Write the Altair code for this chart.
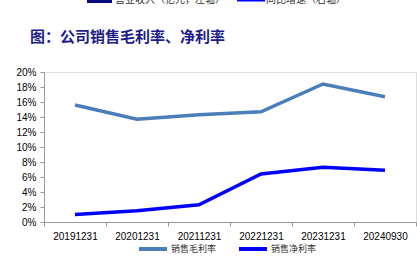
import altair as alt
import pandas as pd

categories = ["20191231", "20201231", "20211231", "20221231", "20231231", "20240930"]
gross_margin = [15.6, 13.7, 14.3, 14.7, 18.4, 16.7]
net_margin = [1.0, 1.5, 2.3, 6.4, 7.3, 6.9]
series_names = ["销售毛利率", "销售净利率"]
series_colors = ["#4A7EBB", "#0000FF"]

rows = []
for c, g, n in zip(categories, gross_margin, net_margin):
    rows.append({"date": c, "series": series_names[0], "value": g / 100})
    rows.append({"date": c, "series": series_names[1], "value": n / 100})
df = pd.DataFrame(rows)

FONT = "Liberation Sans"
CJK = "Noto Sans CJK SC"

lines = alt.Chart(df).mark_line(strokeWidth=3.5).encode(
    x=alt.X("date:N", sort=categories, title=None,
            scale=alt.Scale(paddingInner=0, paddingOuter=0),
            axis=alt.Axis(labelAngle=0, labelFont=FONT, labelFontSize=10, labelColor="#000",
                          tickBand="extent", tickSize=4, tickColor="#999", domainColor="#999",
                          labelPadding=5, grid=False)),
    y=alt.Y("value:Q", title=None,
            scale=alt.Scale(domain=[0, 0.2], nice=False),
            axis=alt.Axis(format=".0%", values=[i / 100 for i in range(0, 21, 2)],
                          labelFont=FONT, labelFontSize=10, labelColor="#000",
                          tickSize=4, tickColor="#999", domainColor="#999", grid=False,
                          labelPadding=4)),
    color=alt.Color("series:N", sort=series_names,
                    scale=alt.Scale(domain=series_names, range=series_colors),
                    legend=alt.Legend(title=None, orient="none", legendX=93, legendY=161,
                                      direction="horizontal", symbolType="stroke",
                                      symbolStrokeWidth=4, symbolSize=784,
                                      labelFont=CJK, labelFontSize=9, labelColor="#333",
                                      columnPadding=14, labelOffset=2, padding=0)),
)

title = alt.Chart(pd.DataFrame({"t": ["图：公司销售毛利率、净利率"]})).mark_text(
    align="left", baseline="middle", font=CJK, fontSize=15, fontWeight="bold", color="#1C1C8C"
).encode(x=alt.value(-14), y=alt.value(-35), text="t:N")

top_texts = pd.DataFrame({"t": ["营业收入（亿元，左轴）", "同比增速（右轴）"], "px": [71, 222]})
top_legend_text = alt.Chart(top_texts).mark_text(
    align="left", baseline="middle", font=CJK, fontSize=10, color="#333"
).encode(x=alt.X("px:Q", scale=None), y=alt.value(-72), text="t:N")

top_bar = alt.Chart(pd.DataFrame({"a": [0]})).mark_rule(strokeWidth=6, color="#0A0A80").encode(
    x=alt.value(43), x2=alt.value(68), y=alt.value(-72))
top_line = alt.Chart(pd.DataFrame({"a": [0]})).mark_rule(strokeWidth=3, color="#0000FF").encode(
    x=alt.value(193), x2=alt.value(221), y=alt.value(-72))

chart = alt.layer(lines, title, top_legend_text, top_bar, top_line).properties(
    width=372, height=150,
    padding={"left": 44, "top": 72, "right": 1, "bottom": 34},
    autosize=alt.AutoSizeParams(type="none"),
).configure_view(stroke=None).configure(background="white")

chart.save("out.html", embed_options={"renderer": "svg", "actions": False})
